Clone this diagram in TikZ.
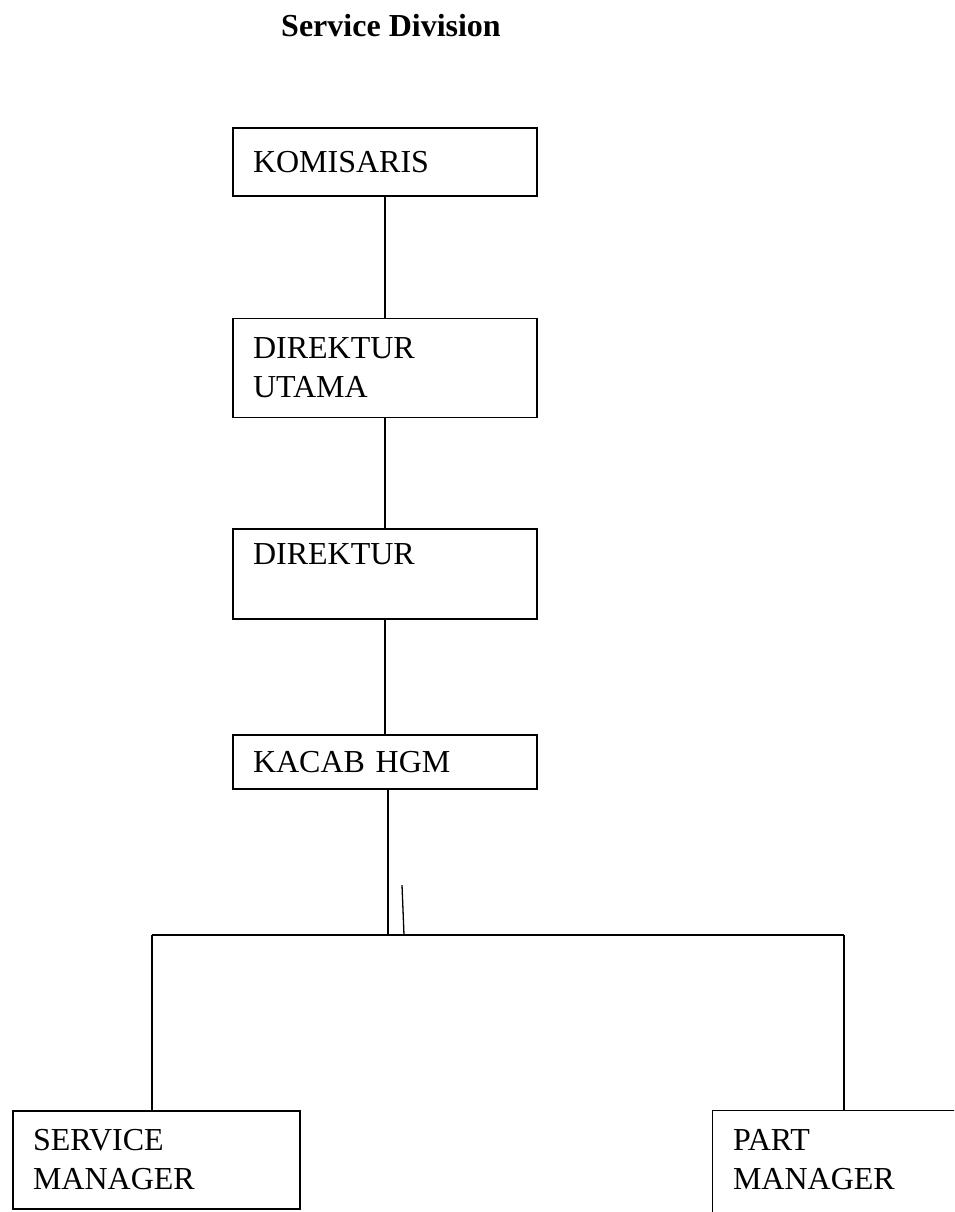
\documentclass[tikz,border=0pt]{standalone}
\usepackage{fontspec}
\setmainfont{Liberation Serif}
\usepackage{tikz}
\usetikzlibrary{positioning,calc}

\begin{document}
\begin{tikzpicture}
[
   x=1pt, y=-1pt,
   line width=1.3pt,
   font=\fontsize{32}{39}\selectfont
]

\tikzset{post/.style = {shape=rectangle, draw, align=left, inner xsep=20pt, inner ysep=2pt,
   minimum width=304pt, text width=264pt}}
\tikzset{lowpost/.style = {post, minimum width=287pt, text width=247pt}}
\tikzset{link/.style = {-, line width=1.3pt}}

\clip (0,0) rectangle (954,1212);

% title
\node[font=\fontsize{32}{38}\selectfont\bfseries] (title) at (391,26) {Service Division};

% nodes
\node[post, minimum height=68pt] (kom) at (385,162) {KOMISARIS};
\node[post, minimum height=99pt] (dirut) at (385,368) {DIREKTUR\\UTAMA};
\node[post, minimum height=90pt] (dir) at (385,574) {DIREKTUR\\\mbox{}};
\node[post, minimum height=54pt] (kacab) at (385,762) {KACAB HGM};
\node[lowpost, minimum height=98pt] (sm) at (156.5,1160) {SERVICE\\MANAGER};
\node[lowpost, minimum height=98pt, draw=none] (pm) at (856.5,1160) {PART\\MANAGER};
\draw[link] ($(pm.south west)+(0,8)$) -- (pm.north west) -- (pm.north east);

% bus
\coordinate (busm) at (388,935);
\coordinate (busl) at (152,935);
\coordinate (busr) at (844,935);
\coordinate (tick) at (402,885);

% arcs
\path[link]
   (kom) edge (dirut)
   (dirut) edge (dir)
   (dir) edge (kacab)
   (kacab.south -| busm) edge (busm)
   (busl) edge (busr)
   (busl) edge (busl |- sm.north)
   (busr) edge (busr |- pm.north)
   (tick) edge ($(busm)+(16,0)$)
;
\end{tikzpicture}
\end{document}
